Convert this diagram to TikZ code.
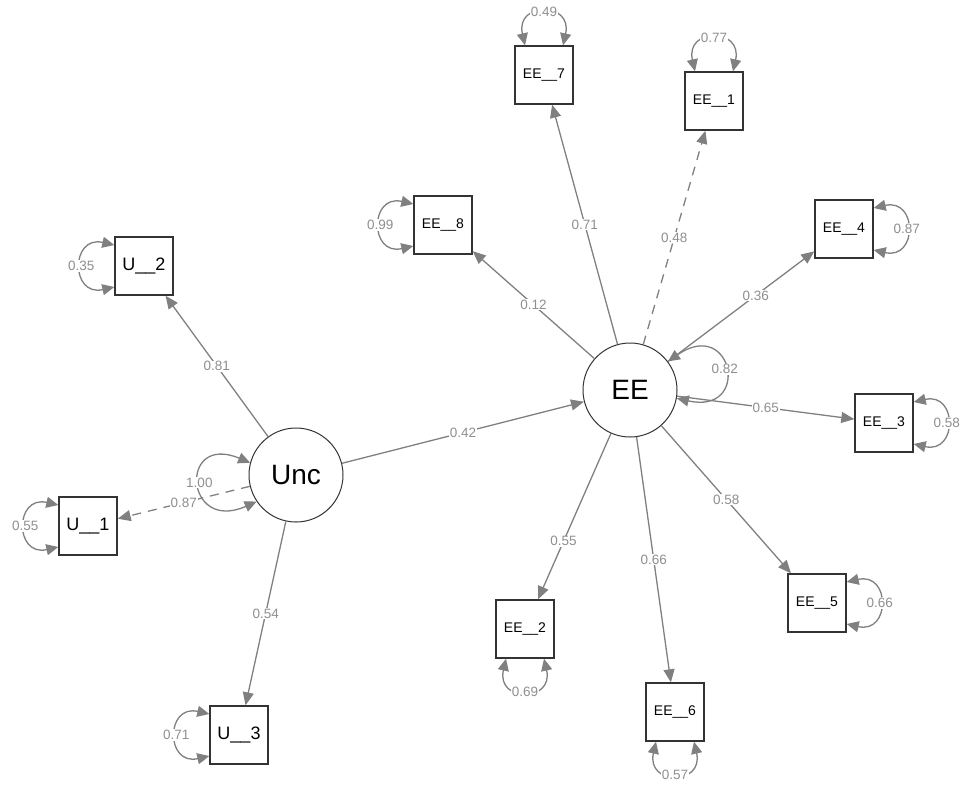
\documentclass[tikz,border=0pt]{standalone}
\usepackage{fontspec}
\setmainfont{Liberation Sans}
\usetikzlibrary{arrows.meta,calc}
\definecolor{edgec}{HTML}{808080}
\definecolor{labc}{HTML}{8F8F8F}
\definecolor{boxc}{HTML}{333333}
\newcommand{\loopL}[2]{\draw[var] ($(#1.west)+(0,-21)$) .. controls +(-44,-10) and +(-44,10) .. ($(#1.west)+(0,21)$) node[lab,pos=0.5]{#2};}
\newcommand{\loopR}[2]{\draw[var] ($(#1.east)+(0,-21)$) .. controls +(44,-10) and +(44,10) .. ($(#1.east)+(0,21)$) node[lab,pos=0.5]{#2};}
\newcommand{\loopT}[2]{\draw[var] ($(#1.north)+(-19,0)$) .. controls +(-10,-44) and +(10,-44) .. ($(#1.north)+(19,0)$) node[lab,pos=0.5]{#2};}
\newcommand{\loopB}[2]{\draw[var] ($(#1.south)+(-19,0)$) .. controls +(-10,44) and +(10,44) .. ($(#1.south)+(19,0)$) node[lab,pos=0.5]{#2};}
\begin{document}
\begin{tikzpicture}[x=1pt,y=-1pt,
 man/.style={draw=boxc,line width=1.4pt,minimum size=58pt,inner sep=0pt,fill=white,font=\fontsize{14}{14}\selectfont},
 manu/.style={man,font=\fontsize{18}{18}\selectfont},
 lat/.style={circle,draw=boxc,line width=1pt,minimum size=94pt,inner sep=0pt,fill=white,font=\fontsize{28}{28}\selectfont},
 edge/.style={draw=edgec,line width=1.3pt,-{Triangle[length=13pt,width=11pt]}},
 var/.style={draw=edgec,line width=1.3pt,{Triangle[length=12pt,width=11pt]}-{Triangle[length=12pt,width=11pt]}},
 lab/.style={text=labc,fill=white,inner sep=0.8pt,font=\fontsize{13.5}{13.5}\selectfont},
 dsh/.style={dash pattern=on 9pt off 7pt}]
\useasboundingbox (0,0) rectangle (965,785);
% nodes
\node[lat] (Unc) at (296,475) {Unc};
\node[lat] (EE) at (630,390) {EE};
\node[manu] (U2) at (144,266) {U\_\_2};
\node[manu] (U1) at (88,526) {U\_\_1};
\node[manu] (U3) at (239,735) {U\_\_3};
\node[man] (EE8) at (443,225) {EE\_\_8};
\node[man] (EE7) at (544,75) {EE\_\_7};
\node[man] (EE1) at (714,101) {EE\_\_1};
\node[man] (EE4) at (844,229) {EE\_\_4};
\node[man] (EE3) at (884,423) {EE\_\_3};
\node[man] (EE5) at (817,603) {EE\_\_5};
\node[man] (EE2) at (525,629) {EE\_\_2};
\node[man] (EE6) at (675,712) {EE\_\_6};
% loadings
\draw[edge] (Unc) -- (U2) node[lab,pos=0.5]{0.81};
\draw[edge,dsh] (Unc) -- (U1) node[lab,pos=0.5]{0.87};
\draw[edge] (Unc) -- (U3) node[lab,pos=0.5]{0.54};
\draw[edge] (Unc) -- (EE) node[lab,pos=0.5]{0.42};
\draw[edge] (EE) -- (EE7) node[lab,pos=0.5]{0.71};
\draw[edge,dsh] (EE) -- (EE1) node[lab,pos=0.5]{0.48};
\draw[edge] (EE) -- (EE8) node[lab,pos=0.5]{0.12};
\draw[edge] (EE) -- (EE4) node[lab,pos=0.6]{0.36};
\draw[edge] (EE) -- (EE3) node[lab,pos=0.5]{0.65};
\draw[edge] (EE) -- (EE5) node[lab,pos=0.5]{0.58};
\draw[edge] (EE) -- (EE6) node[lab,pos=0.5]{0.66};
\draw[edge] (EE) -- (EE2) node[lab,pos=0.65]{0.55};
% latent variances
\draw[var] (Unc.165) .. controls +(-72,-30) and +(-72,32) .. (Unc.214) node[lab,pos=0.5]{1.00};
\draw[var] (EE.37) .. controls +(65,-45) and +(75,17) .. (EE.-10) node[lab,pos=0.5]{0.82};
% residual variances
\loopL{U2}{0.35}
\loopL{U1}{0.55}
\loopL{U3}{0.71}
\loopL{EE8}{0.99}
\loopT{EE7}{0.49}
\loopT{EE1}{0.77}
\loopR{EE4}{0.87}
\loopR{EE3}{0.58}
\loopR{EE5}{0.66}
\loopB{EE2}{0.69}
\loopB{EE6}{0.57}
\end{tikzpicture}
\end{document}
